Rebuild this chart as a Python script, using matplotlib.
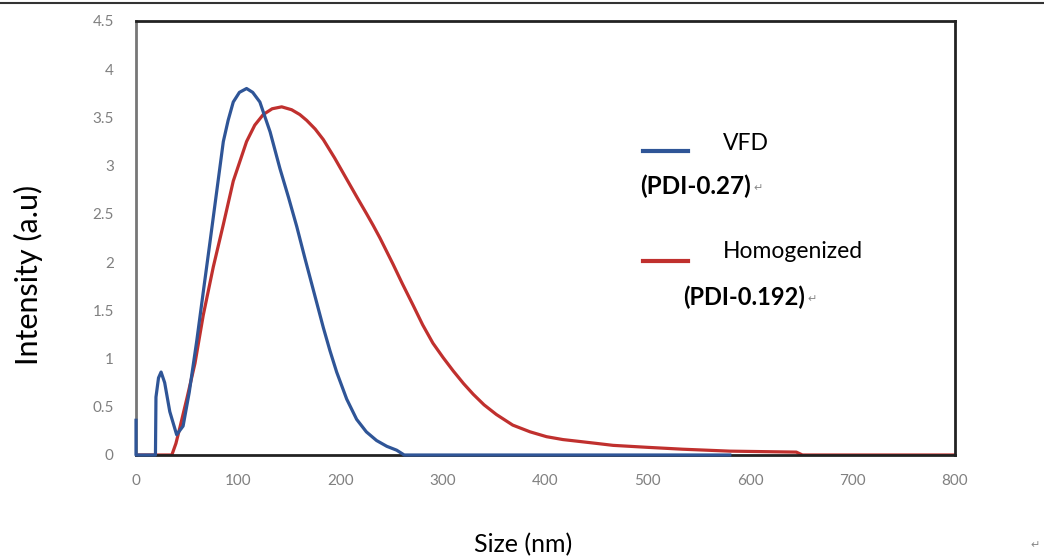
import matplotlib
matplotlib.use("Agg")
import matplotlib.pyplot as plt
from matplotlib.lines import Line2D

plt.rcParams['font.family'] = ['Lato', 'DejaVu Sans']

# VFD size distribution
vfd_size = [0, 0, 19, 19.5, 22, 24.5, 28, 33, 39.7, 46, 52, 59.3, 65.7, 72.3, 78.8,
            85.3, 90, 95, 101, 108, 114, 121, 131, 140.6, 149, 157, 165, 173, 183,
            189.5, 196, 205.8, 215.5, 225, 235, 245, 254.6, 262, 580]
vfd_int = [0.36, 0, 0, 0.6, 0.8, 0.86, 0.75, 0.45, 0.21, 0.3, 0.65, 1.18, 1.69,
           2.21, 2.73, 3.25, 3.47, 3.66, 3.76, 3.80, 3.76, 3.66, 3.35, 2.97, 2.67,
           2.37, 2.04, 1.72, 1.32, 1.08, 0.86, 0.58, 0.37, 0.24, 0.15, 0.09, 0.05,
           0, 0]

# Homogenized size distribution
hom_size = [0, 35, 39, 43, 50, 57.6, 65.7, 75.5, 85.3, 95, 108, 116, 124.3, 133,
            142.3, 152, 160, 166.7, 175, 183, 194, 205.8, 216, 225.3, 231.7, 238.3,
            251, 260, 270.8, 280, 290, 300, 310, 320, 329.4, 340, 352, 368, 385,
            401, 417, 433.6, 450, 466, 498.7, 534, 580, 645, 651, 800]
hom_int = [0, 0, 0.12, 0.29, 0.6, 0.95, 1.45, 1.95, 2.39, 2.84, 3.25, 3.42, 3.53,
           3.59, 3.61, 3.58, 3.53, 3.47, 3.38, 3.27, 3.08, 2.86, 2.67, 2.50, 2.38,
           2.25, 1.98, 1.78, 1.55, 1.35, 1.16, 1.01, 0.87, 0.74, 0.63, 0.52, 0.42,
           0.31, 0.24, 0.19, 0.16, 0.14, 0.12, 0.10, 0.08, 0.06, 0.04, 0.03, 0, 0]

x_ticks = [0, 100, 200, 300, 400, 500, 600, 700, 800]
y_ticks = [0, 0.5, 1, 1.5, 2, 2.5, 3, 3.5, 4, 4.5]
y_tick_labels = ['0', '0.5', '1', '1.5', '2', '2.5', '3', '3.5', '4', '4.5']

BLUE = '#2f5597'
RED = '#c0302e'
W, H = 1044, 560

fig = plt.figure(figsize=(W / 100, H / 100), dpi=100)
ax = fig.add_axes([136 / W, 1 - 455 / H, (955 - 136) / W, (455 - 21) / H])

ax.plot(hom_size, hom_int, color=RED, lw=2.3, solid_joinstyle='round')
ax.plot(vfd_size, vfd_int, color=BLUE, lw=2.3, solid_joinstyle='round',
        clip_on=False, zorder=3)

ax.set_xlim(0, 800)
ax.set_ylim(0, 4.5)
ax.set_xticks(x_ticks)
ax.set_yticks(y_ticks)
ax.set_yticklabels(y_tick_labels)
ax.tick_params(length=0, labelsize=11, labelcolor='#808080')
ax.tick_params(axis='x', pad=14)
ax.tick_params(axis='y', pad=16)
for name, sp in ax.spines.items():
    sp.set_linewidth(2)
    sp.set_color('#222222')
ax.spines['left'].set_color('#777777')

fig.text(28 / W, 1 - 275 / H, 'Intensity (a.u)', rotation=90, fontsize=22,
         ha='center', va='center')
fig.text(523 / W, 1 - 545 / H, 'Size (nm)', fontsize=18, ha='center', va='center')


def pilcrow(txt):
    # small grey return mark right after a text
    ax.annotate('\u21b5', xy=(1, 0.45), xycoords=txt, xytext=(2, 0),
                textcoords='offset points', fontsize=8, color='#888888',
                va='center', ha='left')


# legend-like annotations
fig.add_artist(Line2D([643 / W, 688 / W], [1 - 151 / H] * 2, color=BLUE, lw=3))
fig.add_artist(Line2D([643 / W, 688 / W], [1 - 261 / H] * 2, color=RED, lw=3))
fig.text(723 / W, 1 - 143 / H, 'VFD', fontsize=16.5, va='center')
t1 = fig.text(640 / W, 1 - 186 / H, '(PDI-0.27)', fontsize=17.5, fontweight='bold',
              va='center')
pilcrow(t1)
fig.text(723 / W, 1 - 252 / H, 'Homogenized', fontsize=16.5, va='center')
t2 = fig.text(683 / W, 1 - 297 / H, '(PDI-0.192)', fontsize=17, fontweight='bold',
              va='center')
pilcrow(t2)
fig.text(1035 / W, 1 - 545 / H, '\u21b5', fontsize=8, color='#888888', va='center',
         ha='center')

# page rule at the very top
fig.add_artist(Line2D([0, 1], [1 - 3 / H] * 2, color='#333333', lw=1.5))

fig.savefig('out.png', dpi=100)
